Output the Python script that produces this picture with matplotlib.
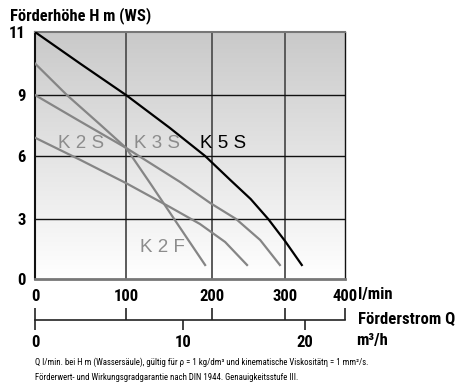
import numpy as np
import matplotlib
matplotlib.use("Agg")
import matplotlib.pyplot as plt
from matplotlib import font_manager as fm

# ---------------- data ----------------
k5s_q = [0, 49.5, 100, 151, 192, 225, 253, 277, 300, 328]
k5s_h = [11, 10.0, 9, 7.38, 6.0, 4.86, 3.95, 3.0, 1.9, 0.7]

k2f_q = [0, 35, 71, 100, 128, 156, 192]
k2f_h = [10.0, 9, 7.57, 6.4, 4.71, 3.0, 0.7]

k3s_q = [0, 47, 100, 163, 198, 233, 266, 293]
k3s_h = [9, 7.77, 6.4, 4.76, 3.76, 3.0, 1.95, 0.7]

k2s_q = [0, 50, 100, 151, 186, 218, 248]
k2s_h = [6.9, 5.81, 4.71, 3.57, 2.75, 1.85, 0.7]

x_ticks = [0, 100, 200, 300, 400]
y_ticks = [0, 3, 6, 9, 11]
m3h_ticks = [0, 10, 20]

# ---------------- fonts ----------------
def pick(names):
    for n in names:
        try:
            fm.findfont(fm.FontProperties(family=n), fallback_to_default=False)
            return n
        except Exception:
            pass
    return None

COND = pick(["Liberation Sans Narrow", "Arial Narrow", "Roboto Condensed",
             "DejaVu Sans Condensed", "Open Sans Condensed", "Noto Sans Condensed"])
SANS = pick(["Liberation Sans", "Arial", "DejaVu Sans"]) or "DejaVu Sans"
NARROW = COND or SANS
TICK_FS = 12 if COND else 10.5

# ---------------- scales (nonuniform chart grid) ----------------
XB = [0, 100, 200, 300, 400]
XP = [0, 91, 177, 250, 310]
YB = [0, 3, 6, 9, 11]
YP = [0, 60, 123, 184, 247]

def xf(v): return np.interp(v, XB, XP)
def xi(v): return np.interp(v, XP, XB)
def yf(v): return np.interp(v, YB, YP)
def yi(v): return np.interp(v, YP, YB)

W, H = 465, 390
fig = plt.figure(figsize=(W / 100, H / 100), dpi=100)
renderer = fig.canvas.get_renderer()

def fit(t, target):
    for _ in range(3):
        w = t.get_window_extent(renderer=renderer).width
        if w > 0:
            t.set_fontsize(t.get_fontsize() * target / w)

L, R, T, B = 35, 345, 32, 279
ax = fig.add_axes([L / W, 1 - B / H, (R - L) / W, (B - T) / H])
ax.set_xscale("function", functions=(xf, xi))
ax.set_yscale("function", functions=(yf, yi))
ax.set_xlim(0, 400)
ax.set_ylim(0, 11)

# background gradient
grad = np.linspace(1.0, 0.0, 256).reshape(-1, 1)
vals = 1.0 - 0.21 * grad
img = np.dstack([vals, vals, vals])
ax.imshow(img, extent=[0, 1, 0, 1], transform=ax.transAxes, aspect="auto",
          zorder=0, interpolation="bilinear")

# grid
for v in [100, 200, 300]:
    ax.axvline(v, color="#5a5a5a", lw=1.4, zorder=1)
for v in [3, 6, 9]:
    ax.axhline(v, color="#111111", lw=1.0, zorder=1)

gray = "#858585"
for q, h in [(k2s_q, k2s_h), (k3s_q, k3s_h), (k2f_q, k2f_h)]:
    ax.plot(q, h, color=gray, lw=1.6, zorder=3, solid_joinstyle="round")
ax.plot(k5s_q, k5s_h, color="#000000", lw=1.6, zorder=4, solid_joinstyle="round")

# curve labels
lab_kw = dict(fontsize=13.5, family=SANS, va="center", ha="left", zorder=5)
ax.text(xi(58 - L), yi(B - 144), "K 2 S", color="#8c8c8c", **lab_kw)
ax.text(xi(134 - L), yi(B - 144), "K 3 S", color="#8c8c8c", **lab_kw)
ax.text(xi(200 - L), yi(B - 144), "K 5 S", color="#000000", **lab_kw)
ax.text(xi(140 - L), yi(B - 247), "K 2 F", color="#8c8c8c", **lab_kw)

# spines
ax.spines["left"].set_color("#111111"); ax.spines["left"].set_linewidth(1.5)
ax.spines["right"].set_color("#111111"); ax.spines["right"].set_linewidth(1.0)
ax.spines["top"].set_color("#777777"); ax.spines["top"].set_linewidth(1.5)
ax.spines["bottom"].set_color("#777777"); ax.spines["bottom"].set_linewidth(2.0)

ax.set_xticks(x_ticks)
ax.set_xticklabels([str(v) for v in x_ticks])
ax.set_yticks(y_ticks)
ax.set_yticklabels([str(v) for v in y_ticks])
ax.xaxis.set_minor_locator(matplotlib.ticker.NullLocator())
ax.yaxis.set_minor_locator(matplotlib.ticker.NullLocator())
ax.tick_params(axis="both", length=0)
ax.tick_params(axis="x", pad=7)
ax.tick_params(axis="y", pad=6.5)
for t in ax.get_xticklabels() + ax.get_yticklabels():
    t.set_fontfamily(NARROW); t.set_fontweight("bold"); t.set_fontsize(TICK_FS)

# secondary scale axis (l/min up ticks, m3/h down ticks)
ya = 320
ax2 = fig.add_axes([L / W, 1 - ya / H, (R - L) / W, 0.0001])
ax2.set_xscale("function", functions=(xf, xi))
ax2.set_xlim(0, 400)
ax2.patch.set_visible(False)
for s in ["left", "right", "top"]:
    ax2.spines[s].set_visible(False)
ax2.spines["bottom"].set_color("#222222"); ax2.spines["bottom"].set_linewidth(1.2)
ax2.set_yticks([])
ax2.xaxis.remove_overlapping_locs = False
ax2.set_xticks(x_ticks)
ax2.set_xticklabels([""] * len(x_ticks))
ax2.set_xticks([m * 1000 / 60 for m in m3h_ticks], minor=True)
ax2.set_xticklabels([str(m) for m in m3h_ticks], minor=True)
ax2.tick_params(axis="x", which="major", direction="in", length=8.5, width=1.2, color="#222222")
ax2.tick_params(axis="x", which="minor", direction="out", length=7, width=1.2, color="#222222", pad=4)
for t in ax2.get_xticklabels(minor=True):
    t.set_fontfamily(NARROW); t.set_fontweight("bold"); t.set_fontsize(TICK_FS)

# texts
t1 = fig.text(10 / W, 1 - 16 / H, "Förderhöhe H m (WS)", family=NARROW, weight="bold",
              fontsize=12, va="center", ha="left")
fit(t1, 142)
t3 = fig.text(358 / W, 1 - 320 / H, "Förderstrom Q", family=NARROW, weight="bold",
              fontsize=12, va="center", ha="left")
fit(t3, 97)
t2 = fig.text(358 / W, 1 - 295 / H, "l/min", family=NARROW, weight="bold",
              fontsize=t3.get_fontsize(), va="center", ha="left")
t4 = fig.text(356 / W, 1 - 340 / H, "m³/h", family=NARROW, weight="bold",
              fontsize=t3.get_fontsize(), va="center", ha="left")
f1 = fig.text(35 / W, 1 - 362 / H,
              "Q l/min. bei H m (Wassersäule), gültig für ρ = 1 kg/dm³ und kinematische Viskositätη = 1 mm²/s.",
              family=NARROW, fontsize=6.2, va="center", ha="left")
fit(f1, 333)
f2 = fig.text(35 / W, 1 - 378 / H,
              "Förderwert- und Wirkungsgradgarantie nach DIN 1944. Genauigkeitsstufe III.",
              family=NARROW, fontsize=6.2, va="center", ha="left")
f2.set_fontsize(f1.get_fontsize())

fig.savefig("out.png", dpi=100)
